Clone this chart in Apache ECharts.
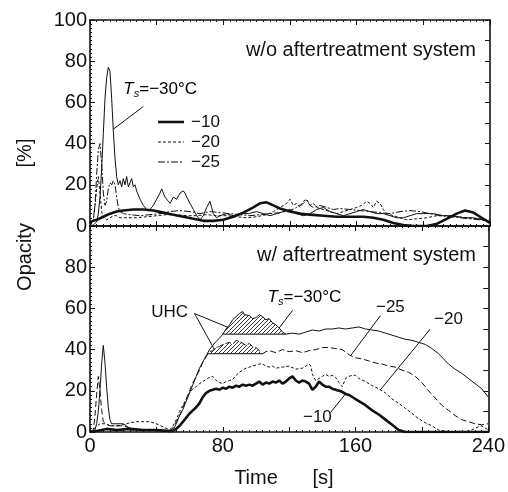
<!DOCTYPE html>
<html><head><meta charset="utf-8">
<script src="https://cdn.jsdelivr.net/npm/echarts/dist/echarts.min.js"></script>
<style>html,body{margin:0;padding:0;background:#fff}#c{width:508px;height:492px}</style>
</head><body><div id="c"></div>
<script>
// ---- data ----
const xTickLabels = [0, 80, 160, 240];
const yTickLabelsTop = [0, 20, 40, 60, 80, 100];
const yTickLabelsBottom = [0, 20, 40, 60, 80];
const legendNames = ['\u221210', '\u221220', '\u221225'];

// top panel: w/o aftertreatment system  [time s, opacity %]
const top_m30 = [[0,0],[2,0.5],[4,2],[5,6],[6,14],[7,28],[8,45],[9,62],[10,72],[11,77],[12,75],[13,62],[14,46],[15,33],[16,24],[17,20],[18,22],[19,19],[20,23],[21,20],[22,24],[23,19],[24,21],[25,23],[26,19],[27,20],[28,17],[30,13],[32,10],[34,8],[36,8],[38,10],[40,13],[42,16],[43,18],[44,16],[45,14],[47,12],[48,11],[50,14],[52,13],[54,16],[56,17],[57,16],[58,14],[60,11],[62,8],[64,5],[66,3],[68,5],[70,9],[72,12],[73,9],[74,6],[76,4],[78,5],[82,6],[86,5],[90,6],[95,6],[100,7],[104,6],[108,5],[112,6],[116,7],[120,8],[124,6],[128,5],[132,6],[136,8],[140,9],[144,7],[148,6],[152,5],[156,6],[160,7],[164,8],[168,7],[172,6],[176,6],[180,5],[184,4],[188,4],[192,5],[196,6],[200,6],[206,6],[212,5],[218,5],[224,4],[230,4],[236,3],[240,2]];
const top_m25 = [[0,0],[2,3],[3,10],[4,25],[5,37],[6,40],[7,30],[8,16],[9,10],[10,12],[11,18],[12,21],[13,20],[14,22],[15,20],[16,14],[17,9],[18,7],[20,6],[24,5.5],[30,5],[36,5.5],[42,6],[48,7],[54,7.5],[60,7],[66,6],[72,7],[78,6.5],[84,6],[90,5.5],[96,5],[102,5.5],[108,6],[114,6.5],[120,7.5],[124,9],[128,11],[130,12.5],[132,10],[134,9],[138,10],[142,9],[146,8],[150,8.5],[156,8],[162,7.5],[168,7],[174,6.5],[180,6],[186,7],[192,7.5],[198,7],[204,6],[210,5],[216,4.5],[222,4],[228,3.5],[234,3],[240,2]];
const top_m20 = [[0,0],[2,3],[3,10],[4,18],[5,24],[6,16],[7,7],[8,4],[10,3],[12,4],[14,5],[16,5],[18,4],[22,4],[28,4],[34,4.5],[40,5],[46,5.5],[52,5.5],[58,5],[64,5],[70,5.5],[76,5],[82,5],[88,4.5],[94,4],[100,4.5],[106,5.5],[110,7],[114,9],[118,11],[120,13],[122,10],[124,11],[126,9],[128,12],[130,13],[132,10],[134,11],[136,9],[140,8],[144,7],[148,6],[152,7],[156,8],[160,9],[163,10],[166,12],[168,11],[170,9],[172,12],[174,11],[176,8],[178,6],[182,5],[186,4],[190,3],[196,3.5],[202,4],[208,5],[214,5],[220,4.5],[226,4],[232,3.5],[240,3]];
const top_m10 = [[0,2],[4,3],[8,4.5],[12,6],[16,7],[20,7.5],[26,8],[32,8],[38,7.5],[44,6.5],[50,5.5],[56,4.5],[62,3.5],[68,2.5],[74,2.5],[80,3],[86,4.5],[92,6.5],[98,9],[102,11],[106,11.5],[110,10],[114,8.5],[120,7],[126,6],[132,5.5],[140,5],[148,4.5],[156,4.5],[164,4.5],[170,4],[176,3],[182,1.5],[188,0.5],[194,0],[202,0],[208,1],[214,3.5],[220,6],[225,7.5],[230,6.5],[235,4],[240,1.5]];

// bottom panel: w/ aftertreatment system
const bot_m30 = [[0,0],[3,1],[4,4],[5,10],[6,20],[7,33],[8,42],[9,34],[10,22],[11,12],[12,6],[13,4],[16,4],[20,4],[22,3],[24,1],[30,1],[36,1],[42,0.5],[48,0.5],[50,1],[52,4],[54,8],[56,11],[58,15],[60,19],[62,23],[64,27],[66,31],[68,34],[70,37],[72,40],[74,42],[76,44],[78,45.5],[80,47.5],[82,50],[84,52],[86,54.5],[88,56],[90,57.5],[92,58.5],[93,57],[94,57.5],[96,56.5],[98,55],[100,55.5],[102,57],[104,56],[106,54.5],[108,55],[110,53],[112,52],[114,50.5],[116,48.5],[118,47.5],[122,48],[126,47.5],[130,48.5],[134,49.5],[138,49],[142,50],[146,50],[150,50.5],[154,50],[158,50.5],[162,51],[166,50],[170,49.5],[174,49],[178,48],[182,47],[186,46],[190,45],[194,44.5],[198,43.5],[202,42.5],[206,40.5],[210,38],[213,35.5],[216,33],[220,30.5],[224,28.5],[228,26],[232,23.5],[236,21],[240,17]];
const bot_m25 = [[0,0],[2,1],[3,8],[4,18],[5,27],[6,20],[7,11],[8,5],[10,4],[12,3],[16,3],[20,3],[24,2],[30,1],[36,1],[42,1],[48,0.5],[50,2],[52,5],[54,8],[56,12],[58,16],[60,20],[62,24],[64,27],[66,30],[68,34],[70,36.5],[71,38],[72,39],[74,39.5],[76,41],[78,41.5],[80,42.5],[82,43],[84,43.5],[86,42.5],[88,44.5],[90,44],[92,43],[94,42],[96,43],[98,41.5],[100,41],[102,39.5],[104,38],[106,39],[108,39.5],[112,38.5],[116,40],[120,39],[124,39.5],[128,38.5],[132,39.5],[136,40],[140,41],[144,41],[148,40.5],[152,40],[156,37.5],[160,36],[164,35.5],[168,34.5],[172,33.5],[176,33],[180,32],[184,31.5],[188,30],[192,29],[196,27],[200,24],[204,20],[208,16.5],[212,13],[216,10.5],[220,8],[224,6],[228,5],[232,4],[236,3.5],[240,4]];
const bot_m20 = [[0,0],[3,2],[6,4],[9,4],[12,3],[16,3],[20,3.5],[24,4.5],[28,5],[32,5],[36,5],[40,4],[44,2.5],[48,1],[50,3],[52,6],[54,10],[56,13],[58,16],[60,19],[62,21],[64,22],[66,23.5],[68,24.5],[70,25.5],[72,26.5],[74,27],[76,25],[78,24],[80,23.5],[82,24.5],[84,25],[86,25.5],[88,27.5],[90,29],[92,30],[94,31],[96,31.5],[98,32],[100,32.5],[102,33],[104,33],[106,32],[108,31.5],[110,32],[112,31],[116,31.5],[120,32],[124,30.5],[128,31],[132,33],[133,32],[134,28],[136,25],[138,26],[140,27],[142,28],[144,27],[146,27.5],[148,26.5],[150,24],[152,22],[154,26],[156,27],[158,27.5],[160,27.5],[162,26],[166,24.5],[170,22.5],[174,21],[178,19],[182,16],[186,14],[190,11.5],[194,9],[198,6.5],[202,4.5],[206,3],[210,1],[214,0.5],[220,0],[226,0],[230,1],[234,2.5],[236,3],[238,2],[240,1]];
const bot_m10 = [[0,0],[4,0.5],[10,1.5],[16,1],[24,1.5],[32,1],[40,1],[48,0.5],[50,0.5],[52,1.5],[54,3],[56,5],[58,7],[60,9],[62,10.5],[64,12],[66,14],[68,17],[70,19],[72,20],[74,20.5],[76,21],[78,20.5],[80,21.5],[82,21],[84,22],[86,21.5],[88,22.5],[90,22],[92,23],[94,22.5],[96,23],[98,22.5],[100,23.5],[102,24.5],[104,23],[106,24],[108,23.5],[110,24.5],[112,24],[114,25],[116,23.5],[118,24.5],[120,26],[122,27],[124,25],[126,24],[128,25],[130,24.5],[132,23.5],[134,20.5],[136,22],[138,24.5],[140,23],[142,22],[144,22],[146,21],[148,20.5],[150,20],[152,19.5],[154,18.5],[156,18],[158,17],[160,16],[162,15],[166,13],[170,10.5],[174,8.5],[178,6],[182,3.5],[186,1],[190,0],[200,0],[220,0],[240,0]];

// UHC hatched regions: [from time, to time, base level]
const uhc30 = [80, 118, 47.5];
const uhc25 = [71, 104, 38];

// ---- rendering ----
const FONT = '"Liberation Sans", Arial, Helvetica, sans-serif';
const BLACK = '#111';

function hatchPattern() {
  const s = 4;
  const c = document.createElement('canvas');
  c.width = s; c.height = s;
  const g = c.getContext('2d');
  g.fillStyle = '#fff'; g.fillRect(0, 0, s, s);
  g.strokeStyle = '#222'; g.lineWidth = 0.9;
  g.beginPath();
  g.moveTo(0, s); g.lineTo(s, 0);
  g.moveTo(-1, 1); g.lineTo(1, -1);
  g.moveTo(s - 1, s + 1); g.lineTo(s + 1, s - 1);
  g.stroke();
  return c;
}
const pat = hatchPattern();

const chart = echarts.init(document.getElementById('c'));

function xAxis(grid, pos, labels) {
  return {
    type: 'value', gridIndex: grid, position: pos, min: 0, max: 240, interval: 40,
    axisLine: { show: true, onZero: false, lineStyle: { color: BLACK, width: 1.6 } },
    axisTick: { show: true, inside: true, length: 5, lineStyle: { color: BLACK, width: 1 } },
    minorTick: { show: true, splitNumber: 10, length: 2, lineStyle: { color: BLACK, width: 1 } },
    splitLine: { show: false },
    axisLabel: labels ? {
      show: true, margin: 4, color: BLACK, fontSize: 20, fontFamily: FONT,
      formatter: v => xTickLabels.includes(v) ? String(v) : ''
    } : { show: false }
  };
}
function yAxis(grid, pos, labels, interval) {
  return {
    type: 'value', gridIndex: grid, position: pos, min: 0, max: 100, interval: interval,
    axisLine: { show: true, onZero: false, lineStyle: { color: BLACK, width: 1.6 } },
    axisTick: { show: true, inside: true, length: 5, lineStyle: { color: BLACK, width: 1 } },
    minorTick: { show: labels != null, splitNumber: 10, length: 2, lineStyle: { color: BLACK, width: 1 } },
    splitLine: { show: false },
    axisLabel: labels ? {
      show: true, margin: 3, color: BLACK, fontSize: 20, fontFamily: FONT,
      formatter: v => labels.includes(v) ? String(v) : ''
    } : { show: false }
  };
}
function curve(name, data, ai, dash, width) {
  return {
    type: 'line', name: name, data: data, xAxisIndex: ai, yAxisIndex: ai,
    symbol: 'none', showSymbol: false, silent: true, z: 3,
    lineStyle: { color: BLACK, width: width, type: dash }
  };
}
function hatch(src, r) {
  return [{
    type: 'line', name: 'uhc', data: src.filter(p => p[0] >= r[0] && p[0] <= r[1]),
    xAxisIndex: 2, yAxisIndex: 2, symbol: 'none', silent: true, z: 2,
    lineStyle: { width: 0 },
    areaStyle: { origin: r[2], color: { image: pat, repeat: 'repeat' }, opacity: 1 }
  }, {
    type: 'line', name: 'uhcBase', data: [[r[0], r[2]], [r[1], r[2]]],
    xAxisIndex: 2, yAxisIndex: 2, symbol: 'none', silent: true, z: 3,
    lineStyle: { color: BLACK, width: 1 }
  }];
}

const D_SOLID = 'solid', D_20 = [3, 2], D_25 = [7, 2, 2, 2];
const legendDash = [null, D_20, D_25];
const legendWidth = [2.6, 1, 1];

chart.setOption({
  animation: false,
  backgroundColor: '#fff',
  grid: [
    { left: 90, right: 18, top: 20, height: 206, show: false },
    { left: 90, right: 18, top: 226, height: 206, show: false }
  ],
  xAxis: [xAxis(0, 'bottom', false), xAxis(0, 'top', false), xAxis(1, 'bottom', true), xAxis(1, 'top', false)],
  yAxis: [yAxis(0, 'left', yTickLabelsTop, 20), yAxis(0, 'right', null, 10),
          yAxis(1, 'left', yTickLabelsBottom, 20), yAxis(1, 'right', null, 10)],
  series: [
    curve('\u221210', top_m10, 0, D_SOLID, 2.6),
    curve('\u221220', top_m20, 0, D_20, 1),
    curve('\u221225', top_m25, 0, D_25, 1),
    curve('\u221230', top_m30, 0, D_SOLID, 1),
    ...hatch(bot_m30, uhc30),
    ...hatch(bot_m25, uhc25),
    curve('b10', bot_m10, 2, D_SOLID, 2.6),
    curve('b20', bot_m20, 2, D_20, 1),
    curve('b25', bot_m25, 2, [6, 3], 1),
    curve('b30', bot_m30, 2, D_SOLID, 1)
  ]
});

// annotations (positions in data coordinates of each panel)
function px(panel, p) {
  return chart.convertToPixel({ xAxisIndex: panel, yAxisIndex: panel }, p);
}
const textStyle = (txt, size, align) => ({ text: txt, font: size + 'px ' + FONT, fill: BLACK, align: align || 'left', verticalAlign: 'middle' });
const tsRich = {
  i: { fontStyle: 'italic', fontSize: 17, fontFamily: FONT, color: BLACK },
  s: { fontStyle: 'italic', fontSize: 11, fontFamily: FONT, color: BLACK, padding: [9, 0, 0, 0] },
  n: { fontSize: 17, fontFamily: FONT, color: BLACK }
};
function tsText(panel, p) {
  const q = px(panel, p);
  return { type: 'text', x: q[0], y: q[1], style: { text: '{i|T}{s|s}{n|=\u221230\u00b0C}', rich: tsRich, verticalAlign: 'middle' } };
}
function leader(panel, a, b) {
  const p = px(panel, a), q = px(panel, b);
  return { type: 'line', shape: { x1: p[0], y1: p[1], x2: q[0], y2: q[1] }, style: { stroke: BLACK, lineWidth: 1 } };
}
function label(panel, p, txt, align) {
  const q = px(panel, p);
  return { type: 'text', x: q[0], y: q[1], style: textStyle(txt, 17, align || 'center') };
}
const g = [];
g.push({ type: 'text', x: 476, y: 50, style: textStyle('w/o aftertreatment system', 20, 'right') });
g.push({ type: 'text', x: 476, y: 255, style: textStyle('w/ aftertreatment system', 20, 'right') });
g.push({ type: 'text', x: 25, y: 257, rotation: Math.PI / 2, style: textStyle('Opacity', 20, 'center') });
g.push({ type: 'text', x: 25, y: 153, rotation: Math.PI / 2, style: textStyle('[%]', 20, 'center') });
g.push({ type: 'text', x: 256, y: 478, style: textStyle('Time', 20, 'center') });
g.push({ type: 'text', x: 323, y: 478, style: textStyle('[s]', 20, 'center') });
// legend of top panel
legendNames.forEach((n, i) => {
  const y = 122 + 20 * i;
  g.push({ type: 'line', shape: { x1: 158, y1: y, x2: 184, y2: y },
           style: { stroke: BLACK, lineWidth: legendWidth[i], lineDash: legendDash[i] } });
  g.push({ type: 'text', x: 191, y: y, style: textStyle(n, 17, 'left') });
});
// top panel
g.push(tsText(0, [20, 66.5]));
g.push(leader(0, [32, 58], [14, 47]));
// bottom panel
g.push(label(2, [48, 58], 'UHC'));
g.push(leader(2, [63, 57.5], [84, 50.5]));
g.push(leader(2, [63, 57.5], [75, 40]));
g.push(tsText(2, [107, 65.5]));
g.push(leader(2, [122, 59], [114, 50.5]));
g.push(label(2, [181, 60.5], '\u221225'));
g.push(leader(2, [175, 56.5], [157, 37]));
g.push(label(2, [216, 54.5], '\u221220'));
g.push(leader(2, [205, 50], [175, 20.5]));
g.push(label(2, [137, 7], '\u221210'));
g.push(leader(2, [145, 9.5], [154, 18.5]));
chart.setOption({ graphic: g });
</script>
</body></html>
